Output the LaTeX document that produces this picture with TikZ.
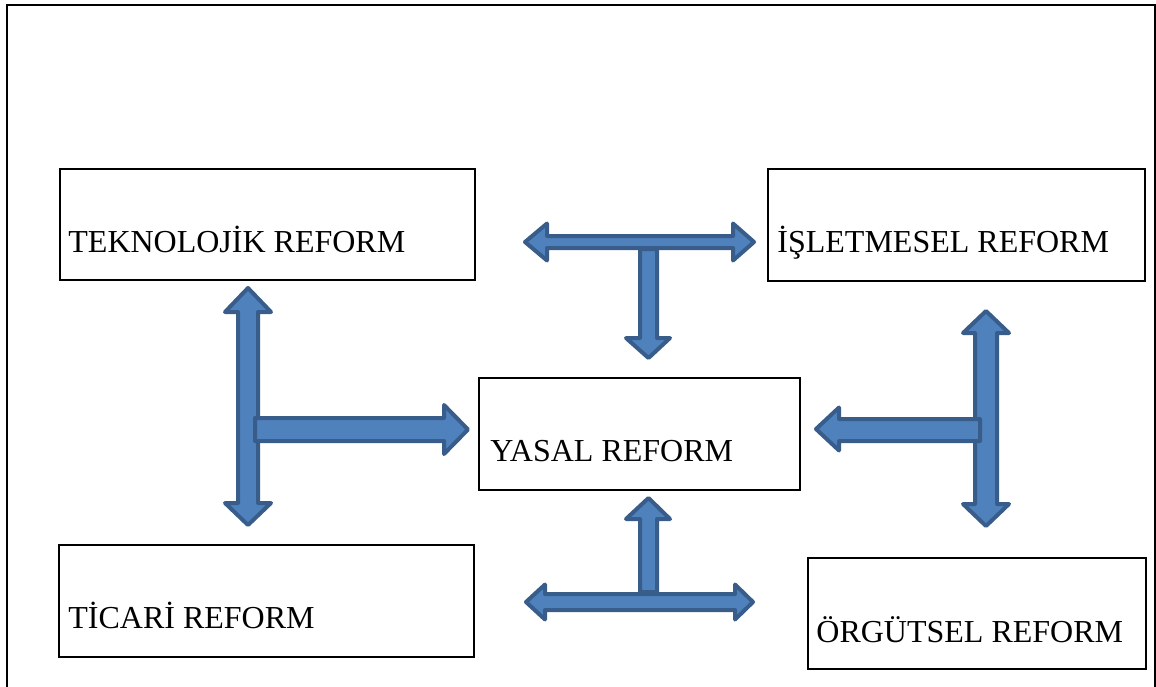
\documentclass[tikz,border=0pt]{standalone}
\usepackage{fontspec}
\setmainfont{Liberation Serif}
\definecolor{arrowfill}{HTML}{4F81BD}
\definecolor{arrowline}{HTML}{385D8A}
\begin{document}
\begin{tikzpicture}[x=0.5pt,y=-0.5pt,
  box/.style={draw=black,line width=1pt,inner sep=0pt,anchor=north west},
  lbl/.style={anchor=base west,inner sep=0pt,font=\fontsize{16}{19}\selectfont},
  blk/.style={fill=arrowfill,draw=arrowline,line width=2pt,line join=round}]
\useasboundingbox (0,0) rectangle (1156,686);
% outer frame (open at bottom)
\draw[line width=1.2pt] (7,700) -- (7,5) -- (1155,5) -- (1155,700);
% boxes
\node[box,minimum width=415*0.5pt,minimum height=111*0.5pt] (tek) at (59,168) {};
\node[lbl] (tekl) at (68,252) {TEKNOLOJİK REFORM};
\node[box,minimum width=377*0.5pt,minimum height=112*0.5pt] (isl) at (767,168) {};
\node[lbl] (isll) at (777,252) {İŞLETMESEL REFORM};
\node[box,minimum width=321*0.5pt,minimum height=112*0.5pt] (yas) at (478,377) {};
\node[lbl] (yasl) at (490,461) {YASAL REFORM};
\node[box,minimum width=415*0.5pt,minimum height=112*0.5pt] (tic) at (58,544) {};
\node[lbl] (ticl) at (68,628) {TİCARİ REFORM};
\node[box,minimum width=338*0.5pt,minimum height=111*0.5pt] (org) at (807,557) {};
\node[lbl] (orgl) at (816,642) {ÖRGÜTSEL REFORM};
% top T: horizontal double arrow
\draw[blk] (525,242) -- (547,223.5) -- (547,236) -- (733,236) -- (733,223.5) -- (754,242)
  -- (733,260.5) -- (733,248) -- (547,248) -- (547,260.5) -- cycle;
% top T: stem down
\draw[blk] (640,249) -- (657,249) -- (657,338) -- (670,338) -- (648.5,358)
  -- (626,338) -- (640,338) -- cycle;
% left: vertical double arrow
\draw[blk] (248,288) -- (271,312) -- (258,312) -- (258,503) -- (271,503) -- (248,525)
  -- (225,503) -- (238,503) -- (238,312) -- (225,312) -- cycle;
% left: horizontal arrow to YASAL
\draw[blk] (255,418) -- (444,418) -- (444,405) -- (468,429.5) -- (444,454)
  -- (444,441) -- (255,441) -- cycle;
% bottom T: stem up
\draw[blk] (640,592) -- (640,519) -- (626,519) -- (648.5,498) -- (670,519)
  -- (657,519) -- (657,592) -- cycle;
% bottom T: horizontal double arrow
\draw[blk] (526,602) -- (545,584.5) -- (545,594) -- (735,594) -- (735,584.5) -- (753,602)
  -- (735,619.5) -- (735,610) -- (545,610) -- (545,619.5) -- cycle;
% right: vertical double arrow
\draw[blk] (986,311) -- (1009,333) -- (997,333) -- (997,504) -- (1009,504) -- (986,526)
  -- (963,504) -- (975,504) -- (975,333) -- (963,333) -- cycle;
% right: horizontal arrow to YASAL
\draw[blk] (816,429) -- (839,407.5) -- (839,419) -- (980,419) -- (980,441)
  -- (839,441) -- (839,450.5) -- cycle;
\end{tikzpicture}
\end{document}
